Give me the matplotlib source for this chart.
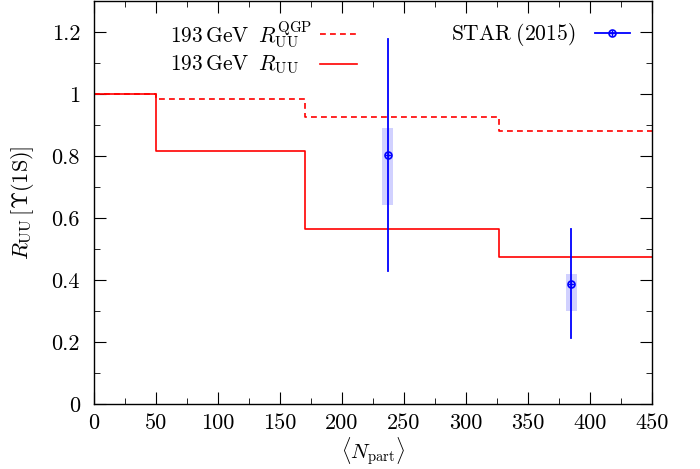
import matplotlib
matplotlib.use("Agg")
import matplotlib.pyplot as plt
from matplotlib.lines import Line2D
import numpy as np

# data
edges = [0, 50, 170, 327, 450]
r_qgp = [1.0, 0.983, 0.926, 0.880]
r_uu = [1.0, 0.815, 0.565, 0.473]
star_x = [237, 385]
star_y = [0.803, 0.387]
star_stat_lo = [0.429, 0.213]
star_stat_hi = [1.177, 0.563]
star_sys_lo = [0.642, 0.300]
star_sys_hi = [0.890, 0.419]
xticks = [0, 50, 100, 150, 200, 250, 300, 350, 400, 450]
yticks = [0, 0.2, 0.4, 0.6, 0.8, 1.0, 1.2]
ytick_labels = ["0", "0.2", "0.4", "0.6", "0.8", "1", "1.2"]

plt.rcParams['font.family'] = 'serif'
plt.rcParams['font.serif'] = ['cmr10', 'DejaVu Serif']
plt.rcParams['mathtext.fontset'] = 'cm'
plt.rcParams['axes.unicode_minus'] = False

W, H = 700, 469
fig = plt.figure(figsize=(7, 4.69), dpi=100)
ax = fig.add_axes([94/W, 65/H, 558/W, 403/H])

red = '#ff0000'
blue = '#0000ff'
dash = (0, (3.5, 2.5))

ys_q = r_qgp + [r_qgp[-1]]
ys_u = r_uu + [r_uu[-1]]
ax.step(edges, ys_q, where='post', color=red, ls=dash, lw=1.2)
ax.step(edges, ys_u, where='post', color=red, lw=1.2)

for x, y, slo, shi, ylo, yhi in zip(star_x, star_y, star_stat_lo, star_stat_hi, star_sys_lo, star_sys_hi):
    ax.add_patch(plt.Rectangle((x - 4.5, ylo), 9, yhi - ylo, facecolor=blue, alpha=0.18, edgecolor='none'))
    ax.plot([x, x], [slo, shi], color=blue, lw=1.3)
ax.plot(star_x, star_y, ls='none', marker='o', ms=5, mfc='none', mec=blue, mew=1.2)
ax.plot(star_x, star_y, ls='none', marker='+', ms=5, mec=blue, mew=1.0)

ax.set_xlim(0, 450)
ax.set_ylim(0, 1.3)
ax.set_xticks(xticks)
ax.set_xticks(np.arange(25, 450, 50), minor=True)
ax.set_yticks(yticks)
ax.set_yticklabels(ytick_labels)
ax.set_yticks(np.arange(0.1, 1.3, 0.2), minor=True)
ax.tick_params(which='both', direction='in', top=True, right=True, labelsize=16)
ax.tick_params(which='major', length=8.5)
ax.tick_params(which='minor', length=4.5)
ax.tick_params(axis='x', pad=7)
ax.tick_params(axis='y', pad=10)
for s in ax.spines.values():
    s.set_linewidth(1.0)

ax.set_xlabel(r'$\langle N_{\rm part}\rangle$', fontsize=15, labelpad=2)
ax.set_ylabel(r'$R_{\rm UU}\,\left[\Upsilon(1{\rm S})\right]$', fontsize=16)
ax.yaxis.set_label_coords(-0.104, 0.5)

def fx(px):
    return px / W

def fy(py):
    return 1 - py / H

fs_leg = 15.5
fig.text(fx(170), fy(35), r'$193\,\mathrm{GeV}\;\; R_{\rm UU}^{\rm QGP}$', fontsize=fs_leg, ha='left', va='center')
fig.text(fx(170), fy(65), r'$193\,\mathrm{GeV}\;\; R_{\rm UU}$', fontsize=fs_leg, ha='left', va='center')
fig.add_artist(Line2D([fx(320), fx(357)], [fy(34), fy(34)], color=red, ls=dash, lw=1.2))
fig.add_artist(Line2D([fx(320), fx(357)], [fy(64), fy(64)], color=red, lw=1.2))

fig.text(fx(575), fy(34), r'$\mathrm{STAR\;(2015)}$', fontsize=fs_leg, ha='right', va='center')
fig.add_artist(Line2D([fx(595), fx(630)], [fy(33), fy(33)], color=blue, lw=1.3))
fig.add_artist(Line2D([fx(612)], [fy(33)], ls='none', marker='o', ms=5, mfc='none', mec=blue, mew=1.2))
fig.add_artist(Line2D([fx(612)], [fy(33)], ls='none', marker='+', ms=5, mec=blue, mew=1.0))

fig.savefig('out.png', dpi=100)
